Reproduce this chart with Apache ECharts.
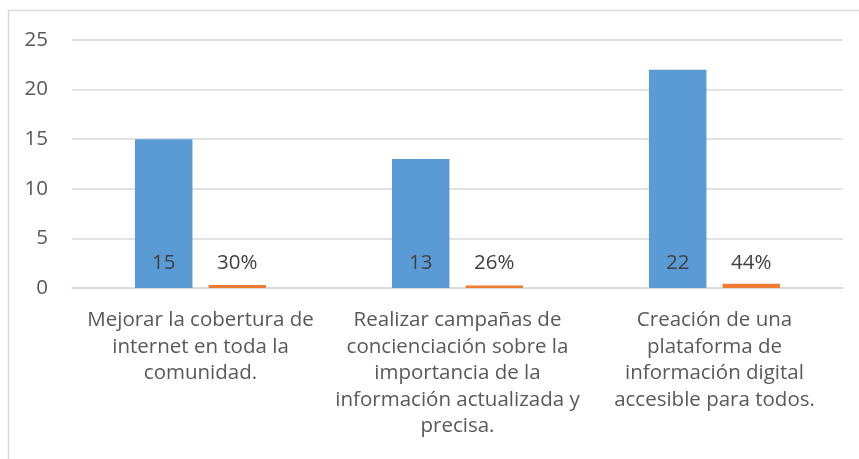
<!DOCTYPE html>
<html><head><meta charset="utf-8">
<script src="https://cdn.jsdelivr.net/npm/echarts@6/dist/echarts.min.js"></script>
<style>html,body{margin:0;padding:0;background:#fff}#c{width:859px;height:459px}</style>
</head><body><div id="c"></div>
<script>
const categories = [
  'Mejorar la cobertura de\ninternet en toda la\ncomunidad.',
  'Realizar campañas de\nconcienciación sobre la\nimportancia de la\ninformación actualizada y\nprecisa.',
  'Creación de una\nplataforma de\ninformación digital\naccesible para todos.'
];
const counts = [15, 13, 22];
const shares = [0.30, 0.26, 0.44];
const yTicks = [0, 5, 10, 15, 20, 25];

const FONT = 'Open Sans';
const FS = 20.5;
const chart = echarts.init(document.getElementById('c'), null, {renderer: 'canvas'});
chart.setOption({
  animation: false,
  textStyle: {fontFamily: FONT},
  graphic: [{
    type: 'rect', shape: {x: 8.5, y: 10.5, width: 900, height: 500},
    style: {fill: null, stroke: '#d9d9d9', lineWidth: 1.5}, silent: true, z: -1
  }],
  grid: {left: 72, right: 16, top: 40, bottom: 171, containLabel: false},
  xAxis: {
    type: 'category', data: categories,
    axisLine: {lineStyle: {color: '#d9d9d9', width: 1.5}},
    axisTick: {show: false},
    axisLabel: {color: '#595959', fontSize: FS, lineHeight: 26.5, margin: 19, interval: 0, fontFamily: FONT}
  },
  yAxis: {
    type: 'value', min: yTicks[0], max: yTicks[yTicks.length - 1], interval: 5,
    axisLine: {show: false}, axisTick: {show: false},
    splitLine: {lineStyle: {color: '#d9d9d9', width: 1.5}},
    axisLabel: {color: '#595959', fontSize: FS, margin: 24, fontFamily: FONT}
  },
  series: [{
    type: 'bar', data: counts, barGap: '28%', barCategoryGap: '49%',
    itemStyle: {color: '#5b9bd5'},
    label: {show: true, position: 'insideBottom', distance: 14, color: '#404040', fontSize: FS, fontFamily: FONT}
  }, {
    type: 'bar', data: shares,
    itemStyle: {color: '#ed7d31'},
    label: {show: true, position: 'insideBottom', distance: 14, color: '#404040', fontSize: FS, fontFamily: FONT,
      formatter: p => Math.round(p.value * 100) + '%'}
  }]
});
</script></body></html>
